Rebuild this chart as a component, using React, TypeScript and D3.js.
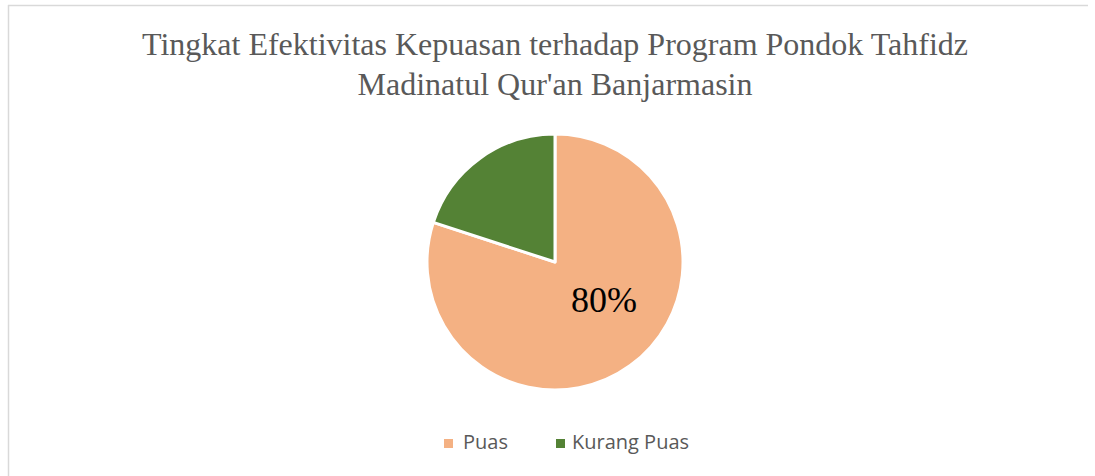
import React from "react";
import * as d3 from "d3";

const categories = ["Puas", "Kurang Puas"];
const values = [80, 20];
const colors = ["#F4B183", "#548235"];
const titleLines = [
  "Tingkat Efektivitas Kepuasan terhadap Program Pondok Tahfidz",
  "Madinatul Qur'an Banjarmasin",
];

export default function App() {
  const W = 1095;
  const H = 476;
  const cx = 555;
  const cy = 262;
  const r = 128;

  const pie = d3
    .pie<number>()
    .sort(null)
    .value((d) => d)
    .startAngle(0)
    .endAngle(2 * Math.PI);
  const arcs = pie(values);
  const arc = d3.arc<d3.PieArcDatum<number>>().innerRadius(0).outerRadius(r);
  const total = d3.sum(values);

  const legendItems = [
    { x: 444, tx: 463 },
    { x: 556, tx: 572 },
  ];

  return (
    <svg
      width={W}
      height={H}
      style={{ position: "absolute", left: 0, top: 0, display: "block" }}
    >
      <rect x={0} y={0} width={W} height={H} fill="#fff" />
      <line x1={8} y1={5.5} x2={1088} y2={5.5} stroke="#d9d9d9" strokeWidth={1.5} />
      <line x1={8.5} y1={5} x2={8.5} y2={H} stroke="#d9d9d9" strokeWidth={1.5} />
      {titleLines.map((t, i) => (
        <text
          key={i}
          x={555}
          y={55 + i * 40}
          textAnchor="middle"
          fontFamily="'Liberation Serif', 'Times New Roman', serif"
          fontSize={32}
          fill="#595959"
        >
          {t}
        </text>
      ))}
      <g transform={`translate(${cx},${cy})`}>
        {arcs.map((a, i) => (
          <path
            key={i}
            d={arc(a) as string}
            fill={colors[i]}
            stroke="#fff"
            strokeWidth={3}
            strokeLinejoin="round"
          />
        ))}
        <text
          x={49}
          y={50}
          textAnchor="middle"
          fontFamily="'Liberation Serif', 'Times New Roman', serif"
          fontSize={36}
          fill="#000"
        >
          {`${Math.round((values[0] / total) * 100)}%`}
        </text>
      </g>
      {categories.map((c, i) => (
        <g key={c}>
          <rect x={legendItems[i].x} y={439} width={9} height={9} fill={colors[i]} />
          <text
            x={legendItems[i].tx}
            y={449}
            fontFamily="'Open Sans', 'Noto Sans', sans-serif"
            fontSize={20}
            fill="#595959"
          >
            {c}
          </text>
        </g>
      ))}
    </svg>
  );
}
